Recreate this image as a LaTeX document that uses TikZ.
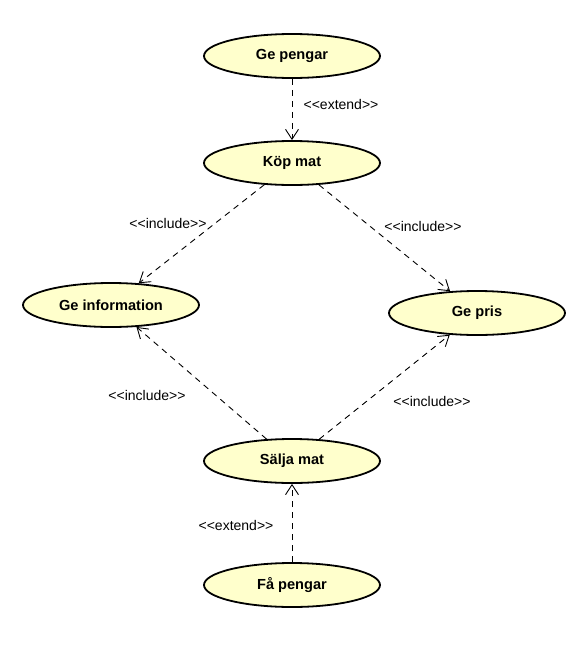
\documentclass[tikz,border=0pt]{standalone}
\usepackage{fontspec}
\setmainfont{Liberation Sans}
\usetikzlibrary{shapes.geometric,arrows.meta}
\definecolor{ucfill}{RGB}{255,255,204}
\tikzset{
  usecase/.style={ellipse, draw=black, line width=1.8pt, fill=ucfill,
    minimum width=176pt, minimum height=44pt, inner sep=0pt,
    font=\fontsize{14.6}{16}\selectfont\bfseries},
  dep/.style={draw=black, line width=0.9pt, dash pattern=on 6pt off 5pt,
    -{Straight Barb[length=10pt,width=13pt,line width=0.9pt]}},
  lbl/.style={font=\fontsize{14}{16}\selectfont, inner sep=0pt}
}
\begin{document}
\begin{tikzpicture}[x=1pt,y=-1pt]
\useasboundingbox (0,0) rectangle (580,659);
\node[usecase] (gepengar) at (292,56) {Ge pengar};
\node[usecase] (kopmat) at (292,163) {Köp mat};
\node[usecase] (geinfo) at (111,305) {Ge information};
\node[usecase] (gepris) at (477,313) {Ge pris};
\node[usecase] (salja) at (292,461) {Sälja mat};
\node[usecase] (fapengar) at (292,585) {Få pengar};
\draw[dep] (gepengar) -- (kopmat);
\draw[dep] (kopmat) -- (geinfo);
\draw[dep] (kopmat) -- (gepris);
\draw[dep] (salja) -- (geinfo);
\draw[dep] (salja) -- (gepris);
\draw[dep] (fapengar) -- (salja);
\node[lbl] (l1) at (341,104) {<{}<extend>{}>};
\node[lbl] (l2) at (168,223) {<{}<include>{}>};
\node[lbl] (l3) at (423,226) {<{}<include>{}>};
\node[lbl] (l4) at (147,395) {<{}<include>{}>};
\node[lbl] (l5) at (432,401) {<{}<include>{}>};
\node[lbl] (l6) at (236,525) {<{}<extend>{}>};
\end{tikzpicture}
\end{document}
